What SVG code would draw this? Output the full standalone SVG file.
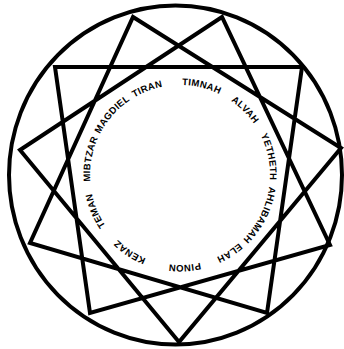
<svg xmlns="http://www.w3.org/2000/svg" xmlns:xlink="http://www.w3.org/1999/xlink" width="344" height="349" viewBox="0 0 344 349">
<style>
.ln{fill:none;stroke:#000;stroke-width:4;stroke-linejoin:miter;stroke-miterlimit:20}
.lb{font-family:"Liberation Sans",Arial,sans-serif;font-size:9.5px;font-weight:bold;fill:#000;letter-spacing:0.3px}
</style>
<defs>
<path id="ring" d="M 180,85 A 90,90 0 1,1 180,265 A 90,90 0 1,1 180,85"/>
</defs>
<rect width="344" height="349" fill="#fff"/>
<g id="outer-circle">
<ellipse class="ln" cx="175.5" cy="175" rx="166.5" ry="169.5"/>
</g>
<g id="connectors">
<polygon class="ln" points="179,342 20,150 222,17 330,245 90,313 55,67 302,67 267,313 30,243 133,17 341,148"/>
</g>
<g id="labels">
<text id="timnah" class="lb" text-anchor="middle"><textPath xlink:href="#ring" href="#ring" startOffset="3.8%">TIMNAH</textPath></text>
<text id="alvah" class="lb" text-anchor="middle"><textPath xlink:href="#ring" href="#ring" startOffset="12.5%">ALVAH</textPath></text>
<text id="yetheth" class="lb" text-anchor="middle"><textPath xlink:href="#ring" href="#ring" startOffset="21.8%">YETHETH</textPath></text>
<text id="ahlibamah" class="lb" text-anchor="middle"><textPath xlink:href="#ring" href="#ring" startOffset="32.4%">AHLIBAMAH</textPath></text>
<text id="elah" class="lb" text-anchor="middle"><textPath xlink:href="#ring" href="#ring" startOffset="41%">ELAH</textPath></text>
<text id="pinon" class="lb" text-anchor="middle"><textPath xlink:href="#ring" href="#ring" startOffset="49.2%">PINON</textPath></text>
<text id="kenaz" class="lb" text-anchor="middle"><textPath xlink:href="#ring" href="#ring" startOffset="59.2%">KENAZ</textPath></text>
<text id="teman" class="lb" text-anchor="middle"><textPath xlink:href="#ring" href="#ring" startOffset="68.6%">TEMAN</textPath></text>
<text id="mibtzar" class="lb" text-anchor="middle"><textPath xlink:href="#ring" href="#ring" startOffset="77.8%">MIBTZAR</textPath></text>
<text id="magdiel" class="lb" text-anchor="middle"><textPath xlink:href="#ring" href="#ring" startOffset="86.6%">MAGDIEL</textPath></text>
<text id="tiran" class="lb" text-anchor="middle"><textPath xlink:href="#ring" href="#ring" startOffset="94.2%">TIRAN</textPath></text>
</g>
</svg>
